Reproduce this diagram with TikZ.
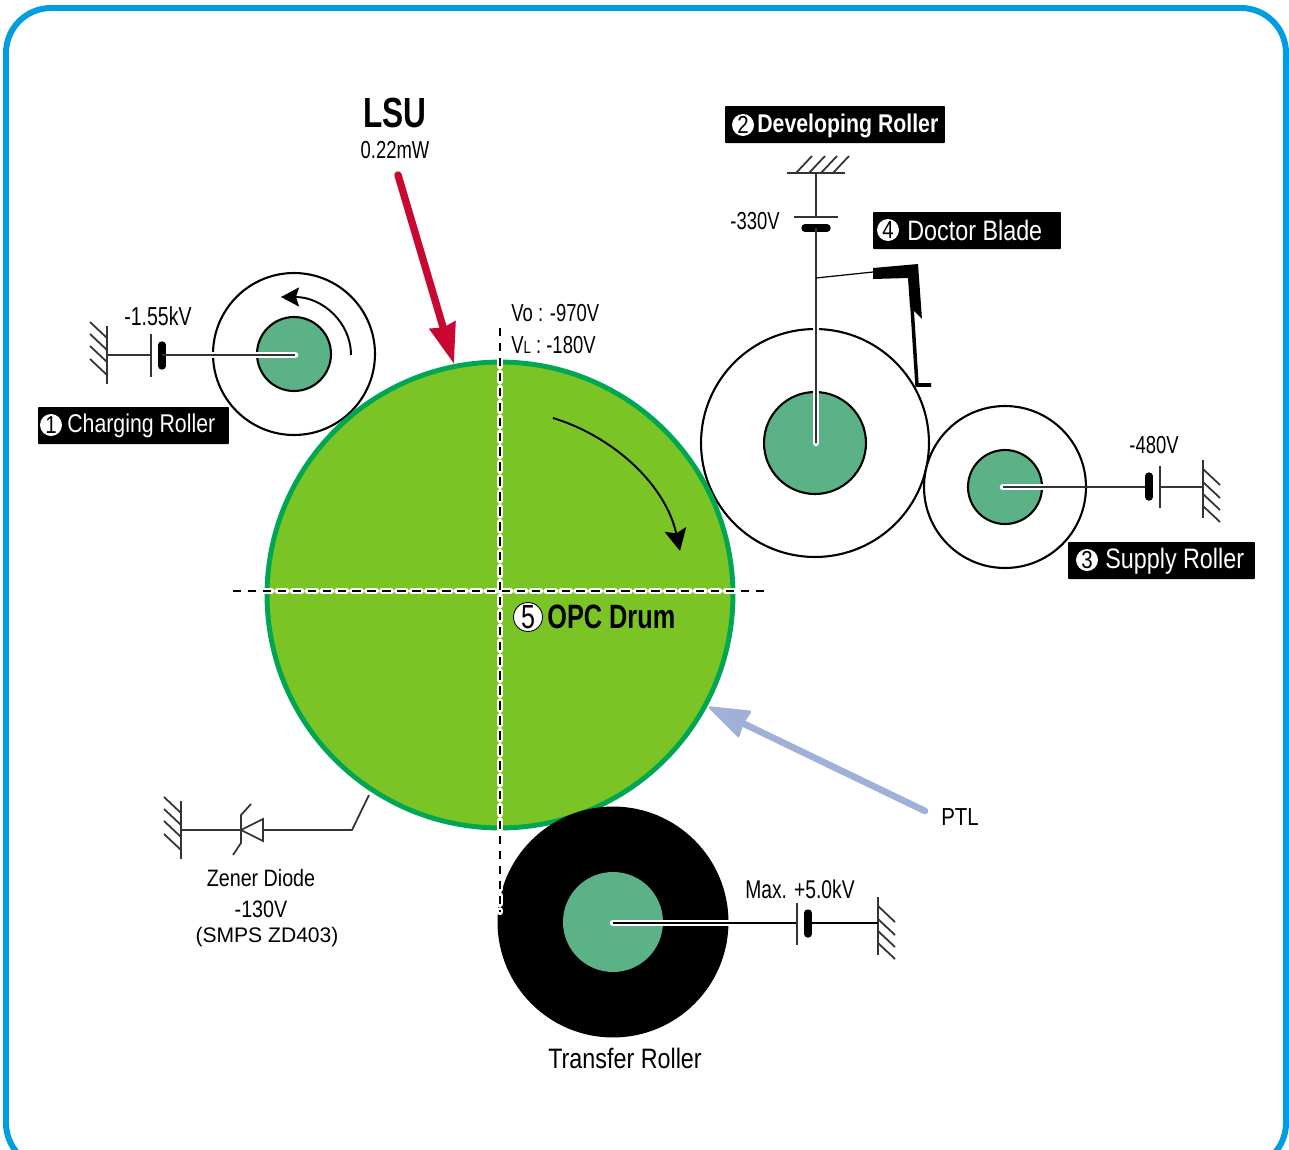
\documentclass[tikz,border=0pt]{standalone}
\usepackage{fontspec}
\setmainfont{Liberation Sans}[FakeStretch=0.83]
\newfontfamily\widefont{Liberation Sans}
\newfontfamily\narrowfont{Liberation Sans}[FakeStretch=0.75]
\usetikzlibrary{arrows.meta}
\definecolor{framecol}{RGB}{0,158,224}
\definecolor{drumfill}{RGB}{122,196,38}
\definecolor{drumline}{RGB}{0,166,81}
\definecolor{corecol}{RGB}{91,178,134}
\definecolor{lsucol}{RGB}{200,8,48}
\definecolor{ptlcol}{RGB}{160,176,216}
\tikzset{
    %Define style for rollers
    roller/.style={
           circle,
           draw=black,
           fill=white,
           line width=1.2pt,
           inner sep=0pt,
           outer sep=0pt},
    core/.style={
           roller,
           fill=corecol},
    % Define style for labels
    lab/.style={
           inner sep=0pt,
           font=\narrowfont\fontsize{14}{16}\selectfont},
    tagbox/.style={
           rectangle,
           rounded corners=0.5pt,
           fill=black,
           inner sep=0pt,
           minimum height=0.74cm},
    tagtext/.style={
           inner sep=0pt,
           text=white,
           anchor=west,
           font=\fontsize{16}{18}\selectfont},
    tagdigit/.style={
           circle,
           fill=white,
           text=black,
           inner sep=0pt,
           minimum size=0.44cm,
           font=\fontsize{14}{16}\selectfont},
    % Define wire styles
    wire/.style={
           draw=black!80,
           line width=1pt},
    halo/.style={
           draw=white,
           line width=3.8pt,
           line cap=round},
    plate/.style={
           draw=black,
           line width=4.2pt,
           line cap=round},
    centerhalo/.style={
           draw=white,
           line width=3.6pt,
           line cap=round,
           dash pattern=on 4.8pt off 3.7pt},
    centerline/.style={
           draw=black,
           line width=1.6pt,
           dash pattern=on 4.8pt off 3.7pt},
    turn/.style={
           draw=black,
           line width=1.1pt},
    % Ground symbol
    earth/.pic={
           \draw[wire] (0,-29) -- (0,29);
           \foreach \h in {-33,-21,-9,4}
               \draw[wire] (-17,\h) -- (0,\h+16);
    }
}

\begin{document}
\begin{tikzpicture}[x=0.02cm, y=-0.02cm]
    \useasboundingbox (0,0) rectangle (1289,1150);
    \clip (0,0) rectangle (1289,1150);

    % FRAME
    \draw[framecol, line width=3.4pt, rounded corners=0.9cm] (6,8) rectangle (1286,1168);

    % ROLLERS
    \node[roller, minimum size=3.24cm] at (294,354) (chargeRoller) {};
    \node[core, minimum size=1.48cm] at (294,354) (chargeCore) {};
    \node[roller, minimum size=4.56cm] at (815,443) (devRoller) {};
    \node[core, minimum size=2.04cm] at (815,443) (devCore) {};
    \node[roller, minimum size=3.24cm] at (1005,487) (supplyRoller) {};
    \node[core, minimum size=1.48cm] at (1005,487) (supplyCore) {};

    % DRUM
    \node[circle, draw=drumline, fill=drumfill, line width=2.8pt, inner sep=0pt, minimum size=9.32cm] at (500,595) (drum) {};

    % TRANSFER ROLLER
    \node[circle, fill=black, inner sep=0pt, minimum size=4.62cm] at (613,922) (transferRoller) {};
    \node[circle, fill=corecol, inner sep=0pt, minimum size=2cm] at (613,922) (transferCore) {};

    % CENTER LINES
    \coordinate (crossW) at (233,591);
    \coordinate (crossE) at (767,591);
    \coordinate (crossN) at (500,328);
    \coordinate (crossS) at (500,912);
    \draw[centerhalo] (crossW) -- (crossE);
    \draw[centerhalo] (crossN) -- (crossS);
    \draw[centerline] (crossW) -- (crossE);
    \draw[centerline] (crossN) -- (crossS);

    % CHARGING ROLLER CIRCUIT
    \pic at (107,355) {earth};
    \coordinate (chargeGnd) at (107,355);
    \coordinate (chargeThin) at (151,355);
    \coordinate (chargeThick) at (162,355);
    \coordinate (chargeEdge) at (212,355);
    \coordinate (chargeHub) at (295,355);
    \draw[wire] (chargeGnd) -- (chargeThin);
    \draw[wire] (151,334) -- (151,377);
    \draw[plate] (162,345) -- (162,366);
    \draw[halo] (chargeEdge) -- (chargeHub);
    \draw[wire] (chargeThick) -- (chargeHub);

    % DEVELOPING ROLLER CIRCUIT
    \pic[rotate=-90] at (816,173) {earth};
    \coordinate (devGnd) at (816,173);
    \coordinate (devEdge) at (816,328);
    \coordinate (devEnd) at (816,443);
    \coordinate (bladeJoint) at (816,278);
    \coordinate (bladeArm) at (873,272);
    \draw[halo] (devEdge) -- (devEnd);
    \draw[wire] (devGnd) -- (816,217);
    \draw[wire] (794,217) -- (838,217);
    \draw[plate] (805,228) -- (827,228);
    \draw[wire] (816,228) -- (devEnd);
    \draw[black, line width=0.7pt] (bladeJoint) -- (bladeArm);
    \fill[black] (873,268) -- (918,264) -- (922,319) -- (910,307) -- (908,278) -- (873,279) -- cycle;
    \draw[black, line width=2pt] (912,307) -- (917,385) -- (931,385);

    % SUPPLY ROLLER CIRCUIT
    \pic[rotate=180] at (1203,489) {earth};
    \coordinate (supplyGnd) at (1203,487);
    \coordinate (supplyHub) at (1003,487);
    \draw[halo] (supplyHub) -- (1043,487);
    \draw[wire] (supplyHub) -- (1149,487);
    \draw[plate] (1149,476) -- (1149,497);
    \draw[wire] (1160,466) -- (1160,508);
    \draw[wire] (1160,487) -- (supplyGnd);

    % TRANSFER ROLLER CIRCUIT
    \pic[rotate=180] at (878,926) {earth};
    \coordinate (transferGnd) at (878,923);
    \coordinate (transferHub) at (613,923);
    \draw[halo] (transferHub) -- (728,923);
    \draw[black, line width=1.1pt] (transferHub) -- (797,923);
    \draw[wire] (797,903) -- (797,945);
    \draw[plate] (808,913) -- (808,934);
    \draw[black, line width=1.1pt] (808,923) -- (transferGnd);

    % ZENER DIODE
    \pic at (181,830) {earth};
    \coordinate (zenerGnd) at (181,830);
    \coordinate (zenerBar) at (241,830);
    \coordinate (zenerBase) at (263,830);
    \coordinate (zenerKnee) at (352,830);
    \coordinate (zenerDrum) at (369,795);
    \draw[wire] (zenerGnd) -- (zenerBar);
    \draw[wire] (251,804) -- (241,815) -- (241,843) -- (233,855);
    \draw[wire] (zenerBar) -- (263,819) -- (263,841) -- cycle;
    \draw[wire] (zenerBase) -- (zenerKnee) -- (zenerDrum);

    % ARROWS
    \coordinate (lsuStart) at (398,175);
    \coordinate (lsuEnd) at (454,364);
    \draw[lsucol, line width=4.2pt, line cap=round, -{Stealth[length=0.8cm,width=0.52cm,inset=0.04cm]}] (lsuStart) -- (lsuEnd);
    \coordinate (ptlStart) at (925,811);
    \coordinate (ptlEnd) at (709,707);
    \draw[ptlcol, line width=3.8pt, line cap=round, -{Stealth[length=0.86cm,width=0.6cm,inset=0.04cm,round,line width=1.5pt]}] (ptlStart) -- (ptlEnd);
    \coordinate (chargeArcA) at (351,355);
    \coordinate (chargeArcB) at (281,297);
    \draw[turn, -{Stealth[length=0.36cm,width=0.38cm,inset=0.06cm]}] (chargeArcA) .. controls (351,322) and (322,297) .. (chargeArcB);
    \coordinate (drumArcA) at (553,418);
    \coordinate (drumArcB) at (680,551);
    \draw[turn, -{Stealth[length=0.44cm,width=0.44cm,inset=0.08cm]}] (drumArcA) .. controls (615,437) and (666,486) .. (drumArcB);

    % LABELS
    \node[lab, font=\narrowfont\bfseries\fontsize{24}{26}\selectfont] at (395,113) (lsuLabel) {LSU};
    \node[lab] at (395,150) (lsuPower) {0.22mW};
    \node[lab, anchor=west] at (511,313) (voLabel) {Vo : -970V};
    \node[lab, anchor=west] at (511,345) (vlLabel) {V{\fontsize{10}{10}\selectfont L} : -180V};
    \node[lab, font=\narrowfont\fontsize{14.8}{16}\selectfont] at (158,316) (chargeVolt) {-1.55kV};
    \node[lab] at (755,221) (devVolt) {-330V};
    \node[lab] at (1154,445) (supplyVolt) {-480V};
    \node[lab, font=\narrowfont\fontsize{14.6}{16}\selectfont] at (800,889) (transferVolt) {Max. +5.0kV};
    \node[lab, font=\fontsize{14}{16}\selectfont] at (960,817) (ptlLabel) {PTL};
    \node[lab, font=\fontsize{16}{18}\selectfont] at (625,1058) (transferLabel) {Transfer Roller};
    \node[lab, font=\fontsize{13.5}{16}\selectfont] at (261,878) (zenerLabel) {Zener Diode};
    \node[lab, font=\fontsize{13.5}{16}\selectfont] at (261,909) (zenerVolt) {-130V};
    \node[lab, font=\widefont\fontsize{12}{14}\selectfont] at (267,937) (zenerPart) {(SMPS ZD403)};

    % TAGS
    \node[tagbox, minimum width=3.82cm] at (133.5,425.5) (chargeTag) {};
    \node[tagdigit] at (51,425) (chargeNum) {1};
    \node[tagtext, font=\fontsize{14.6}{18}\selectfont] at (67,426) (chargeText) {Charging Roller};

    \node[tagbox, minimum width=4.4cm] at (835,124.5) (devTag) {};
    \node[tagdigit] at (743,125) (devNum) {2};
    \node[tagtext, font=\bfseries\fontsize{14.6}{18}\selectfont] at (757,126) (devText) {Developing Roller};

    \node[tagbox, minimum width=3.76cm] at (967,230.5) (bladeTag) {};
    \node[tagdigit] at (888,230) (bladeNum) {4};
    \node[tagtext] at (907,230) (bladeText) {Doctor Blade};

    \node[tagbox, minimum width=3.74cm] at (1161.5,560.5) (supplyTag) {};
    \node[tagdigit] at (1087,560) (supplyNum) {3};
    \node[tagtext] at (1105,561) (supplyText) {Supply Roller};

    \node[tagdigit, draw=black, line width=0.5pt, minimum size=0.58cm, font=\narrowfont\fontsize{19}{20}\selectfont] at (528,617) (drumNum) {5};
    \node[lab, anchor=west, font=\narrowfont\bfseries\fontsize{19.2}{20}\selectfont] at (547,617) (drumLabel) {OPC Drum};
\end{tikzpicture}
\end{document}
